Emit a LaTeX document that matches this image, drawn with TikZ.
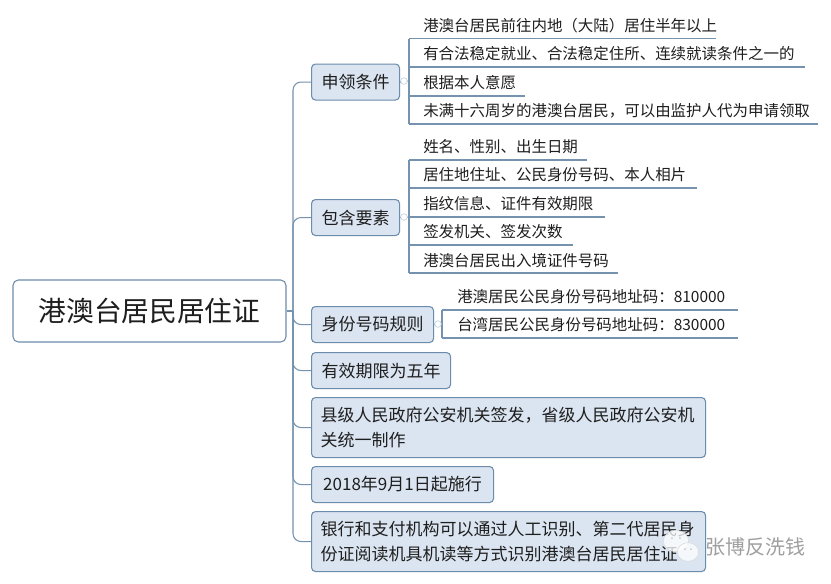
\documentclass[tikz,border=0pt]{standalone}
\usepackage{fontspec}
\setmainfont{Noto Sans CJK SC}
\definecolor{boxfill}{HTML}{DBE5F1}
\definecolor{boxline}{HTML}{6C8CAB}
\definecolor{linkline}{HTML}{7593AE}
\definecolor{inktext}{HTML}{1E1E1E}
\usetikzlibrary{shapes.geometric}
\tikzset{
	link/.style={draw=linkline,line width=0.8pt},
	trunk/.style={link,rounded corners=6},
	rootbox/.style={draw=boxline,line width=0.8pt,fill=white,rounded corners=4,inner sep=0,minimum width=204.75pt,minimum height=46.5pt,text=inktext,font=\fontsize{20.8pt}{24pt}\selectfont},
	topic/.style={draw=boxline,line width=0.8pt,fill=boxfill,rounded corners=3,anchor=north west,inner sep=0,minimum height=27pt,text=inktext,font=\fontsize{12.75pt}{19pt}\selectfont},
	wide/.style={topic,minimum height=45pt,minimum width=295.5pt,align=left,text width=282pt},
	leaf/.style={anchor=west,inner sep=0,text=inktext,font=\fontsize{11.6pt}{14pt}\selectfont},
	fold/.style={circle,draw=boxfill!70!linkline,line width=0.4pt,fill=white,inner sep=0,minimum size=5pt},
	bubble/.style={ellipse,fill=white,draw=gray!30,line width=0.4pt,fill opacity=0.75,inner sep=0},
	eye/.style={circle,fill=gray!45,inner sep=0,minimum size=1.5pt},
}
\begin{document}
\begin{tikzpicture}[x=0.75pt,y=-0.75pt]
	\useasboundingbox (0,0) rectangle (831,583);
	\fill[white] (0,0) rectangle (831,583);

	\node[rootbox] (root) at (149.5,311) {港澳台居民居住证};
	\coordinate (joint) at (293,311);

	\node[topic,minimum width=66pt] (t1) at (311,63.5) {申领条件};
	\node[topic,minimum width=66pt] (t2) at (311,199) {包含要素};
	\node[topic,minimum width=91.5pt] (t3) at (311,306) {身份号码规则};
	\node[topic,minimum width=104.25pt] (t4) at (311,352) {有效期限为五年};
	\node[wide] (t5) at (311,397) {县级人民政府公安机关签发，省级人民政府公安机\\关统一制作};
	\node[topic,minimum width=136.5pt] (t6) at (311,466) {2018年9月1日起施行};
	\node[wide] (t7) at (311,511) {银行和支付机构可以通过人工识别、第二代居民身\\份证阅读机具机读等方式识别港澳台居民居住证};

	\draw[link] (root.east) -- (joint);
	\draw[trunk] (joint) |- (t1.west);
	\draw[trunk] (joint) |- (t2.west);
	\draw[trunk] (joint) |- (t3.west);
	\draw[trunk] (joint) |- (t4.west);
	\draw[trunk] (joint) |- (t5.west);
	\draw[trunk] (joint) |- (t6.west);
	\draw[trunk] (joint) |- (t7.west);

	\node[leaf] (a1) at (423,26) {港澳台居民前往内地（大陆）居住半年以上};
	\node[leaf] (a2) at (423,54) {有合法稳定就业、合法稳定住所、连续就读条件之一的};
	\node[leaf] (a3) at (423,83) {根据本人意愿};
	\node[leaf] (a4) at (423,111) {未满十六周岁的港澳台居民，可以由监护人代为申请领取};

	\coordinate (a1l) at (409,38.5);
	\coordinate (a1r) at (716,38.5);
	\coordinate (a2l) at (409,67);
	\coordinate (a2r) at (805,67);
	\coordinate (a3l) at (409,96);
	\coordinate (a3r) at (525,96);
	\coordinate (a4l) at (409,124);
	\coordinate (a4r) at (818,124);
	\coordinate (af) at (409,81);
	\draw[link] (a1l) -- (a1r);
	\draw[link] (a2l) -- (a2r);
	\draw[link] (a3l) -- (a3r);
	\draw[link] (a4l) -- (a4r);
	\draw[link] (a1l) -- (a4l);
	\draw[link] (t1.east) -- (af);
	\node[fold] (f1) at (404,81) {};

	\node[leaf] (b1) at (423,147) {姓名、性别、出生日期};
	\node[leaf] (b2) at (423,175) {居住地住址、公民身份号码、本人相片};
	\node[leaf] (b3) at (423,204) {指纹信息、证件有效期限};
	\node[leaf] (b4) at (423,232) {签发机关、签发次数};
	\node[leaf] (b5) at (423,261) {港澳台居民出入境证件号码};

	\coordinate (b1l) at (409,160);
	\coordinate (b1r) at (587,160);
	\coordinate (b2l) at (409,188);
	\coordinate (b2r) at (697,188);
	\coordinate (b3l) at (409,217);
	\coordinate (b3r) at (605,217);
	\coordinate (b4l) at (409,245);
	\coordinate (b4r) at (573,245);
	\coordinate (b5l) at (409,273);
	\coordinate (b5r) at (618,273);
	\draw[link] (b1l) -- (b1r);
	\draw[link] (b2l) -- (b2r);
	\draw[link] (b3l) -- (b3r);
	\draw[link] (b4l) -- (b4r);
	\draw[link] (b5l) -- (b5r);
	\draw[link] (b1l) -- (b5l);
	\draw[link] (t2.east) -- (b3l);
	\node[fold] (f2) at (404,217) {};

	\node[leaf] (c1) at (457,296.5) {港澳居民公民身份号码地址码：810000};
	\node[leaf] (c2) at (457,324.5) {台湾居民公民身份号码地址码：830000};

	\coordinate (c1l) at (442,310);
	\coordinate (c1r) at (738,310);
	\coordinate (c2l) at (442,338);
	\coordinate (c2r) at (738,338);
	\coordinate (cf) at (442,324);
	\draw[link] (c1l) -- (c1r);
	\draw[link] (c2l) -- (c2r);
	\draw[link] (c1l) -- (c2l);
	\draw[link] (t3.east) -- (cf);
	\node[fold] (f3) at (438,324) {};

	\node[bubble,minimum width=19pt,minimum height=16pt] (w1) at (676,541) {};
	\node[bubble,minimum width=16pt,minimum height=14pt] (w2) at (688,552) {};
	\node[eye] (e1) at (672,538) {};
	\node[eye] (e2) at (680,538) {};
	\node[eye] (e3) at (685,549) {};
	\node[eye] (e4) at (691,549) {};
	\node[inner sep=0,text=gray!75,font=\fontsize{15pt}{18pt}\selectfont] (w3) at (755,547) {张博反洗钱};
\end{tikzpicture}
\end{document}
